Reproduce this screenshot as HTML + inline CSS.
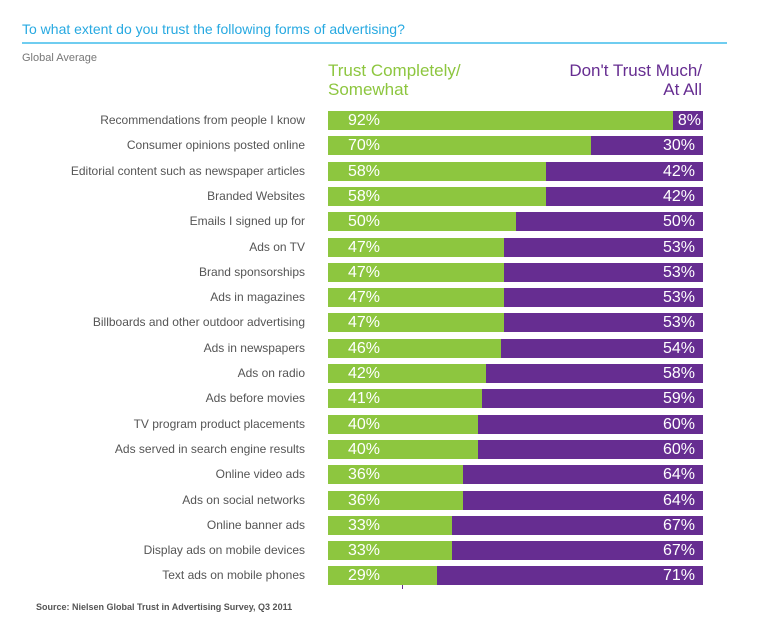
<!DOCTYPE html>
<html><head><meta charset="utf-8"><style>
body{margin:0;background:#fff;font-family:"Liberation Sans",sans-serif;}
#c{position:relative;width:781px;height:641px;overflow:hidden;}
.t{position:absolute;white-space:nowrap;}
</style></head><body>
<div id="c">
<div class="t" style="left:22px;top:21px;font-size:14px;color:#27a9e1;">To what extent do you trust the following forms of advertising?</div>
<div style="position:absolute;left:22px;top:42px;width:705px;height:2px;background:#6fcdf0;"></div>
<div class="t" style="left:22px;top:52px;font-size:11px;color:#777;">Global Average</div>
<div class="t" style="left:328px;top:61px;font-size:17px;line-height:19px;color:#8dc63f;">Trust Completely/<br>Somewhat</div>
<div class="t" style="right:79px;top:61px;font-size:17px;line-height:19px;color:#662d91;text-align:right;">Don't Trust Much/<br>At All</div>
<div style="position:absolute;left:402px;top:585px;width:1px;height:4px;background:#662d91;"></div>
<div class="t" style="left:36px;top:602px;font-size:9px;font-weight:bold;color:#555;">Source: Nielsen Global Trust in Advertising Survey, Q3 2011</div>
</div>
<script>
const categories=["Recommendations from people I know","Consumer opinions posted online","Editorial content such as newspaper articles","Branded Websites","Emails I signed up for","Ads on TV","Brand sponsorships","Ads in magazines","Billboards and other outdoor advertising","Ads in newspapers","Ads on radio","Ads before movies","TV program product placements","Ads served in search engine results","Online video ads","Ads on social networks","Online banner ads","Display ads on mobile devices","Text ads on mobile phones"];
const trustValues=[92,70,58,58,50,47,47,47,47,46,42,41,40,40,36,36,33,33,29];
const distrustValues=[8,30,42,42,50,53,53,53,53,54,58,59,60,60,64,64,67,67,71];
const X0=328,W=375,Y0=111,STEP=25.3,H=19;
const x=v=>X0+v/100*W;
const y=i=>Y0+i*STEP;
const c=document.getElementById('c');
categories.forEach((cat,i)=>{
  const top=y(i);
  const lab=document.createElement('div');
  
  
  lab.className='t';
  lab.textContent=cat;
  lab.style.cssText=`right:${781-305}px;top:${top+2}px;font-size:12px;color:#555;`;
  c.appendChild(lab);
  const g=document.createElement('div');
  
  
  g.style.cssText=`position:absolute;left:${X0}px;top:${top}px;width:${x(trustValues[i])-X0}px;height:${H}px;background:#8dc63f;`;
  c.appendChild(g);
  const p=document.createElement('div');
  
  
  p.style.cssText=`position:absolute;left:${x(trustValues[i])}px;top:${top}px;width:${x(trustValues[i]+distrustValues[i])-x(trustValues[i])}px;height:${H}px;background:#662d91;`;
  c.appendChild(p);
  const gl=document.createElement('div');
  
  
  gl.className='t';
  gl.textContent=trustValues[i]+'%';
  gl.style.cssText=`left:${X0+20}px;top:${top}px;font-size:16px;line-height:19px;color:#fff;`;
  c.appendChild(gl);
  const pl=document.createElement('div');
  
  
  pl.className='t';
  pl.textContent=distrustValues[i]+'%';
  pl.style.cssText=`right:${781-(X0+W)+(distrustValues[i]<10?2:8)}px;top:${top}px;font-size:16px;line-height:19px;color:#fff;`;
  c.appendChild(pl);
});
</script>
</body></html>
